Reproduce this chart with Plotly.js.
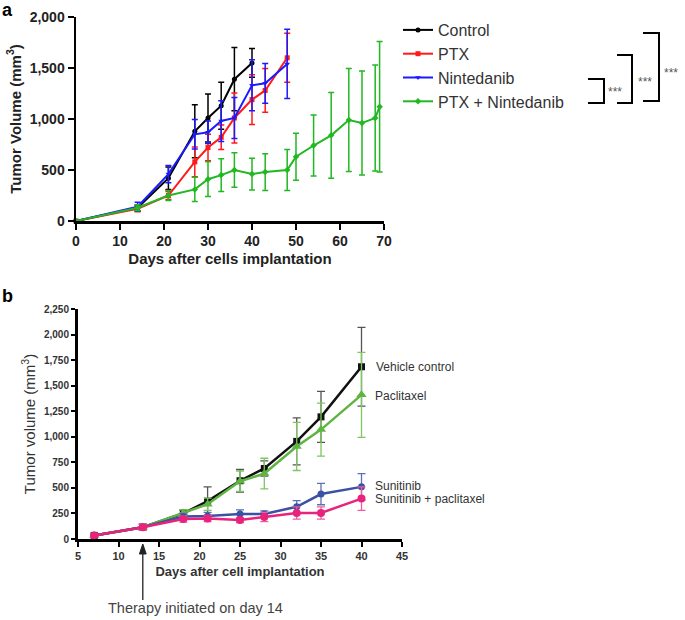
<!DOCTYPE html>
<html>
<head>
<meta charset="utf-8">
<script src="https://cdn.plot.ly/plotly-3.0.1.min.js"></script>
<style>html,body{margin:0;padding:0;background:#fff;}#chart{width:685px;height:620px;}</style>
</head>
<body>
<div id="chart"></div>
<script>
// ---------- Panel a data ----------
const aCtrlDays = [0, 14, 21, 27, 30, 33, 36, 40];
const aCtrlVol  = [0, 130, 420, 880, 1010, 1130, 1390, 1550];
const aCtrlErr  = [0, 30, 110, 260, 235, 230, 310, 140];

const aPtxDays = [0, 14, 21, 27, 30, 33, 36, 40, 43, 48];
const aPtxVol  = [0, 120, 250, 580, 720, 820, 1010, 1190, 1280, 1600];
const aPtxErr  = [0, 30, 40, 145, 130, 120, 245, 245, 215, 240];

const aNinDays = [0, 14, 21, 27, 30, 33, 36, 40, 43, 48];
const aNinVol  = [0, 140, 460, 850, 870, 980, 1010, 1330, 1350, 1540];
const aNinErr  = [0, 45, 85, 145, 110, 200, 200, 250, 195, 340];

const aComboDays = [0, 14, 21, 27, 30, 33, 36, 40, 43, 48, 50, 54, 58, 62, 65, 68, 69];
const aComboVol  = [0, 130, 250, 310, 410, 450, 500, 460, 480, 500, 630, 740, 840, 990, 960, 1010, 1120];
const aComboErr  = [0, 30, 50, 120, 170, 160, 170, 155, 180, 200, 230, 300, 420, 505, 510, 520, 640];

const aNames = ["Control", "PTX", "Nintedanib", "PTX + Nintedanib"];
const aXTicks = [0, 10, 20, 30, 40, 50, 60, 70];
const aYTicks = [0, 500, 1000, 1500, 2000];

// ---------- Panel b data ----------
const bDays = [7, 13, 18, 21, 25, 28, 32, 35, 40];
const bVehicle    = [35, 115, 250, 370, 570, 690, 955, 1195, 1685];
const bVehicleErr = [10, 30, 35, 140, 110, 75, 230, 250, 385];
const bPacli      = [35, 115, 255, 340, 565, 640, 905, 1070, 1410];
const bPacliErr   = [10, 30, 30, 60, 100, 150, 235, 260, 415];
const bSuni       = [35, 115, 220, 225, 245, 245, 315, 440, 510];
const bSuniErr    = [10, 30, 30, 35, 40, 30, 60, 105, 130];
const bCombo      = [35, 115, 195, 200, 185, 215, 255, 255, 395];
const bComboErr   = [10, 30, 30, 30, 25, 45, 60, 60, 115];

const bNames = ["Vehicle control", "Paclitaxel", "Sunitinib", "Sunitinib + paclitaxel"];
const bXTicks = [5, 10, 15, 20, 25, 30, 35, 40, 45];
const bYTicks = [0, 250, 500, 750, 1000, 1250, 1500, 1750, 2000, 2250];
const therapyDay = 13;

// ---------- helpers ----------
const W = 685, H = 620;
const px = v => v / W;
const py = v => 1 - v / H;
const FONT = "Liberation Sans, Arial, sans-serif";

function aTrace(x, y, err, name, color, symbol) {
  return {
    x: x, y: y, name: name, type: 'scatter', mode: 'lines+markers',
    xaxis: 'x', yaxis: 'y', cliponaxis: false,
    line: {color: color, width: 2},
    marker: {color: color, size: 5, symbol: symbol},
    error_y: {type: 'data', array: err, visible: true, color: color, thickness: 1.5, width: 3}
  };
}
function bTrace(y, err, name, color, errColor, symbol, size) {
  return {
    x: bDays, y: y, name: name, type: 'scatter', mode: 'lines+markers',
    xaxis: 'x2', yaxis: 'y2', cliponaxis: false, showlegend: false,
    line: {color: color, width: 2.5},
    marker: {color: color, size: size, symbol: symbol},
    error_y: {type: 'data', array: err, visible: true, color: errColor, thickness: 1.3, width: 4}
  };
}

const data = [
  aTrace(aCtrlDays, aCtrlVol, aCtrlErr, aNames[0], '#000000', 'circle'),
  aTrace(aPtxDays, aPtxVol, aPtxErr, aNames[1], '#ff1a1a', 'square'),
  aTrace(aNinDays, aNinVol, aNinErr, aNames[2], '#1a1aff', 'triangle-down'),
  aTrace(aComboDays, aComboVol, aComboErr, aNames[3], '#22b822', 'diamond'),
  bTrace(bVehicle, bVehicleErr, bNames[0], '#111111', '#555555', 'square', 7),
  bTrace(bPacli, bPacliErr, bNames[1], '#5fb443', '#7cc85e', 'triangle-up', 9),
  bTrace(bSuni, bSuniErr, bNames[2], '#3b52a4', '#5a70bb', 'circle', 7),
  bTrace(bCombo, bComboErr, bNames[3], '#e9237c', '#ef5c9c', 'circle', 8)
];

const axisBase = {
  showline: true, linecolor: '#000', showgrid: false, zeroline: false,
  ticks: 'outside', tickcolor: '#000', automargin: false, fixedrange: true
};

const layout = {
  width: W, height: H,
  margin: {l: 0, r: 0, t: 0, b: 0},
  paper_bgcolor: '#fff', plot_bgcolor: 'rgba(0,0,0,0)',
  font: {family: FONT, color: '#222'},
  showlegend: true,
  legend: {
    x: px(398), y: py(13), xanchor: 'left', yanchor: 'top',
    font: {family: FONT, size: 16, color: '#333'},
    bgcolor: 'rgba(0,0,0,0)', tracegroupgap: 0, itemwidth: 30
  },
  xaxis: Object.assign({}, axisBase, {
    domain: [px(76), px(384)], range: [0, 70], anchor: 'y',
    tickvals: aXTicks, linewidth: 2.5, ticklen: 6, tickwidth: 2,
    tickfont: {family: FONT, size: 14, color: '#222', weight: 'bold'},
    title: {text: 'Days after cells implantation', standoff: 5,
            font: {family: FONT, size: 15, color: '#222', weight: 'bold'}}
  }),
  yaxis: Object.assign({}, axisBase, {
    domain: [py(221), py(17)], range: [0, 2000], anchor: 'x',
    tickvals: aYTicks, tickformat: ',d', linewidth: 2.5, ticklen: 6, tickwidth: 2,
    tickfont: {family: FONT, size: 14, color: '#222', weight: 'bold'},
    title: {text: 'Tumor Volume (mm<sup>3</sup>)', standoff: 5,
            font: {family: FONT, size: 15, color: '#222', weight: 'bold'}}
  }),
  xaxis2: Object.assign({}, axisBase, {
    domain: [px(78), px(402)], range: [5, 45], anchor: 'y2',
    tickvals: bXTicks, linewidth: 3, ticklen: 5, tickwidth: 2,
    tickfont: {family: FONT, size: 11, color: '#333', weight: 'bold'},
    title: {text: 'Days after cell implantation', standoff: 6,
            font: {family: FONT, size: 13, color: '#333', weight: 'bold'}}
  }),
  yaxis2: Object.assign({}, axisBase, {
    domain: [py(539), py(309)], range: [0, 2250], anchor: 'x2',
    tickvals: bYTicks, tickformat: ',d', linewidth: 3, ticklen: 4, tickwidth: 2,
    tickfont: {family: FONT, size: 10, color: '#333', weight: 'bold'},
    title: {text: 'Tumor volume (mm<sup>3</sup>)', standoff: 5,
            font: {family: FONT, size: 15, color: '#333'}}
  }),
  shapes: [
    // significance brackets (panel a)
    {type: 'path', xref: 'paper', yref: 'paper', line: {color: '#000', width: 2},
     path: `M ${px(588)} ${py(79)} L ${px(604)} ${py(79)} L ${px(604)} ${py(103)} L ${px(588)} ${py(103)}`},
    {type: 'path', xref: 'paper', yref: 'paper', line: {color: '#000', width: 2},
     path: `M ${px(617)} ${py(55)} L ${px(632)} ${py(55)} L ${px(632)} ${py(103)} L ${px(617)} ${py(103)}`},
    {type: 'path', xref: 'paper', yref: 'paper', line: {color: '#000', width: 2},
     path: `M ${px(643)} ${py(33)} L ${px(659)} ${py(33)} L ${px(659)} ${py(101)} L ${px(643)} ${py(101)}`},
    // therapy arrow (panel b)
    {type: 'line', xref: 'x2', yref: 'paper', x0: therapyDay, x1: therapyDay, y0: py(600), y1: py(552),
     line: {color: '#222', width: 1.3}},
    {type: 'path', xref: 'x2', yref: 'paper', fillcolor: '#222', line: {color: '#222', width: 1},
     path: `M ${therapyDay - 0.42} ${py(554)} L ${therapyDay + 0.42} ${py(554)} L ${therapyDay} ${py(544)} Z`}
  ],
  annotations: [
    {text: '<b>a</b>', xref: 'paper', yref: 'paper', x: px(0), y: py(10), xanchor: 'left', yanchor: 'middle',
     showarrow: false, font: {family: FONT, size: 18, color: '#000'}},
    {text: '<b>b</b>', xref: 'paper', yref: 'paper', x: px(0), y: py(296), xanchor: 'left', yanchor: 'middle',
     showarrow: false, font: {family: FONT, size: 18, color: '#000'}},
    {text: '***', xref: 'paper', yref: 'paper', x: px(606), y: py(92), xanchor: 'left', yanchor: 'middle',
     showarrow: false, font: {family: FONT, size: 12, color: '#555'}},
    {text: '***', xref: 'paper', yref: 'paper', x: px(636), y: py(82), xanchor: 'left', yanchor: 'middle',
     showarrow: false, font: {family: FONT, size: 12, color: '#555'}},
    {text: '***', xref: 'paper', yref: 'paper', x: px(662), y: py(73), xanchor: 'left', yanchor: 'middle',
     showarrow: false, font: {family: FONT, size: 12, color: '#555'}},
    // panel b series labels
    {text: bNames[0], xref: 'paper', yref: 'paper', x: px(374), y: py(367), xanchor: 'left', yanchor: 'middle',
     showarrow: false, font: {family: FONT, size: 12, color: '#333'}},
    {text: bNames[1], xref: 'paper', yref: 'paper', x: px(373), y: py(396), xanchor: 'left', yanchor: 'middle',
     showarrow: false, font: {family: FONT, size: 12, color: '#333'}},
    {text: bNames[2], xref: 'paper', yref: 'paper', x: px(373), y: py(486), xanchor: 'left', yanchor: 'middle',
     showarrow: false, font: {family: FONT, size: 12, color: '#333'}},
    {text: bNames[3], xref: 'paper', yref: 'paper', x: px(373), y: py(499), xanchor: 'left', yanchor: 'middle',
     showarrow: false, font: {family: FONT, size: 12, color: '#333'}},
    {text: 'Therapy initiated on day 14', xref: 'paper', yref: 'paper', x: px(195), y: py(608),
     xanchor: 'center', yanchor: 'middle', showarrow: false, font: {family: FONT, size: 14.5, color: '#444'}}
  ]
};

Plotly.newPlot('chart', data, layout, {displayModeBar: false, staticPlot: true});
</script>
</body>
</html>
